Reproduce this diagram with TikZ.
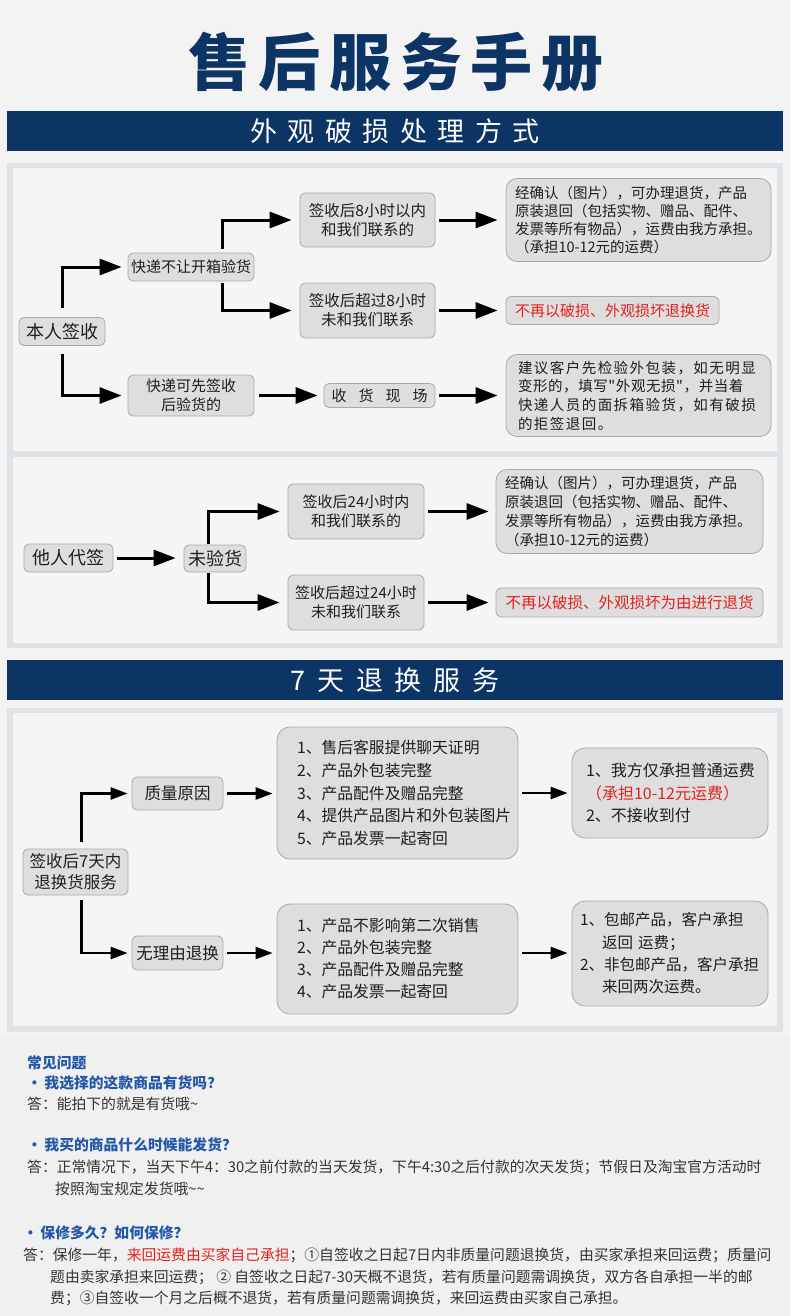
\documentclass[tikz,border=0pt]{standalone}
\usepackage{fontspec}
\setmainfont{Noto Sans CJK SC}
\usepackage{tikz}
\usetikzlibrary{arrows.meta}
\definecolor{Navy}{HTML}{0C3465}
\definecolor{Page}{HTML}{F3F3F3}
\definecolor{FaqBg}{HTML}{F0F0F0}
\definecolor{Frame}{HTML}{DEE3E7}
\definecolor{Panel}{HTML}{F5F5F5}
\definecolor{BoxFill}{HTML}{DEDEDE}
\definecolor{BoxLine}{HTML}{A9A9A9}
\definecolor{Ink}{HTML}{1E1E1E}
\definecolor{Warn}{HTML}{E3211F}
\definecolor{FaqBlue}{HTML}{2357A8}
\definecolor{FaqText}{HTML}{333333}
\newcommand\setfs[2]{\fontsize{#1}{#2}\selectfont}
\tikzset{card/.style={rounded corners=5pt,draw=BoxLine,fill=BoxFill,line width=.8pt,align=center,text=Ink,inner sep=0pt},bigcard/.style={card,rounded corners=11pt,align=left,inner xsep=9pt},banner/.style={fill=Navy,text=white,minimum width=776pt,minimum height=40pt,inner sep=0pt},flow/.style={-{Triangle[length=22pt,width=16pt]},line width=3pt,draw=black},thinflow/.style={-{Triangle[length=17pt,width=12pt]},line width=2.4pt,draw=black},faqhead/.style={anchor=west,inner sep=0pt,text=FaqBlue,font=\setfs{14.8}{18}\bfseries},faqtext/.style={anchor=west,inner sep=0pt,text=FaqText,font=\setfs{14.8}{18}}}

\begin{document}
\begin{tikzpicture}[x=1pt,y=-1pt]
      % background, frames
      \fill[Page](0,0)rectangle(790,1316);
      \path[use as bounding box](0,0)rectangle(790,1316);
      \fill[FaqBg](0,1037)rectangle(790,1316);
      \fill[Frame](7,163)rectangle(783,648);\fill[Panel](13,168)rectangle(777,451);\fill[Panel](13,457)rectangle(777,643);
      \fill[Frame](7,708)rectangle(783,1032);\fill[Panel](13,713)rectangle(777,1026);
      \node[text=Navy,inner sep=0pt,font={\setfs{62}{62}\bfseries\addfontfeature{LetterSpace=14}}](title)at(396,62){售后服务手册\hspace{-8.7pt}};
      \node[banner,font={\setfs{27}{27}\addfontfeature{LetterSpace=39}}](damagebar)at(395,131){外观破损处理方式\hspace{-10.5pt}};
      \node[banner,font={\setfs{27}{27}\addfontfeature{LetterSpace=44}}](returnbar)at(395,680){7天退换服务\hspace{-11.9pt}};
      % signed by oneself
      \node[card,minimum width=86pt,minimum height=28pt,font=\setfs{18}{22}](self)at(62,331.5){本人签收};
      \node[card,minimum width=126pt,minimum height=28pt,font=\setfs{15}{19}](noopen)at(191,267){快递不让开箱验货};
      \node[card,minimum width=126pt,minimum height=41pt,font=\setfs{15}{19}](signfirst)at(191,395.5){快递可先签收\\后验货的};
      \node[card,minimum width=135pt,minimum height=54pt,font=\setfs{15.5}{19}](within8)at(367.5,220){签收后8小时以内\\和我们联系的};
      \node[card,minimum width=135pt,minimum height=55pt,font=\setfs{15.5}{19}](over8)at(367.5,310.5){签收后超过8小时\\未和我们联系};
      \node[card,minimum width=111pt,minimum height=24pt,font=\setfs{15}{19}](onsite)at(379.5,395.5){收\hspace{12pt}货\hspace{12pt}现\hspace{12pt}场};
      \node[bigcard,text width=247pt,minimum height=83pt,font=\setfs{14.5}{18.2}](refund1)at(638.5,220){经确认（图片），可办理退货，产品\\原装退回（包括实物、赠品、配件、\\发票等所有物品），运费由我方承担。\\（承担10-12元的运费）};
      \node[card,minimum width=213pt,minimum height=28pt,text=Warn,font=\setfs{15}{19}](noreturn1)at(612.5,310.5){不再以破损、外观损坏退换货};
      \node[bigcard,inner xsep=12pt,text width=241pt,minimum height=82pt,font={\setfs{14.5}{18.7}\addfontfeature{LetterSpace=10}}](advice)at(638.5,395.5){建议客户先检验外包装，如无明显\\{\addfontfeature{LetterSpace=4,Ligatures=TeXOff}变形的，填写"外观无损"，并当着}\\快递人员的面拆箱验货，如有破损\\的拒签退回。};
      \draw[flow,shorten <=9.5pt,shorten >=6pt](self.north)|-(noopen.west);\draw[flow,shorten <=8.5pt,shorten >=6pt](self.south)|-(signfirst.west);
      \draw[flow,shorten <=4pt,shorten >=8pt]([xshift=31pt]noopen.north)|-(within8.west);\draw[flow,shorten <=2pt,shorten >=8pt]([xshift=31pt]noopen.south)|-(over8.west);
      \draw[flow,shorten <=5pt,shorten >=6pt](signfirst)--(onsite);
      \draw[flow,shorten <=4pt,shorten >=8pt](within8)--(refund1);\draw[flow,shorten <=4pt,shorten >=8pt](over8.east)--(over8.east-|noreturn1.west);\draw[flow,shorten <=4pt,shorten >=8pt](onsite)--(advice);
      % signed by someone else
      \node[card,minimum width=89pt,minimum height=28pt,font=\setfs{18}{22}](other)at(68.5,558){他人代签};
      \node[card,minimum width=62pt,minimum height=27pt,font=\setfs{18}{22}](unchecked)at(215,558.5){未验货};
      \node[card,minimum width=136pt,minimum height=55pt,font=\setfs{15}{19}](within24)at(356,511.5){签收后24小时内\\和我们联系的};
      \node[card,minimum width=136pt,minimum height=55pt,font=\setfs{15}{19}](over24)at(356,602.5){签收后超过24小时\\未和我们联系};
      \node[bigcard,text width=249pt,minimum height=84pt,font=\setfs{14.5}{18.7}](refund2)at(629.5,511.5){经确认（图片），可办理退货，产品\\原装退回（包括实物、赠品、配件、\\发票等所有物品），运费由我方承担。\\（承担10-12元的运费）};
      \node[card,minimum width=267pt,minimum height=29pt,text=Warn,font=\setfs{15.5}{19}](noreturn2)at(629.5,602.5){不再以破损、外观损坏为由进行退货};
      \draw[flow,shorten <=4pt,shorten >=8pt](other.east)--(other.east-|unchecked.west);
      \draw[flow,shorten <=1pt,shorten >=8pt]([xshift=-7pt]unchecked.north)|-(within24.west);\draw[flow,shorten <=1pt,shorten >=8pt]([xshift=-7pt]unchecked.south)|-(over24.west);
      \draw[flow,shorten <=4pt,shorten >=7pt](within24)--(refund2);\draw[flow,shorten <=4pt,shorten >=7pt](over24)--(noreturn2);
      % 7 day returns
      \node[card,minimum width=105pt,minimum height=46pt,font=\setfs{16.5}{21}](start7)at(75.5,872){签收后7天内\\退换货服务};
      \node[card,minimum width=91pt,minimum height=33pt,font=\setfs{16.5}{20}](quality)at(177.5,793.5){质量原因};
      \node[card,minimum width=91pt,minimum height=34pt,font=\setfs{16.5}{20}](noreason)at(177.5,953){无理由退换};
      \node[bigcard,rounded corners=13pt,inner xsep=20pt,text width=201pt,minimum height=132pt,font=\setfs{15.8}{22.7}](qlist)at(397.5,793){1、售后客服提供聊天证明\\2、产品外包装完整\\3、产品配件及赠品完整\\4、提供产品图片和外包装图片\\5、产品发票一起寄回};
      \node[bigcard,rounded corners=13pt,inner xsep=20pt,text width=201pt,minimum height=110pt,font=\setfs{15.8}{22}](nlist)at(397.5,959){1、产品不影响第二次销售\\2、产品外包装完整\\3、产品配件及赠品完整\\4、产品发票一起寄回};
      \node[bigcard,rounded corners=13pt,inner xsep=14pt,text width=168pt,minimum height=90pt,font=\setfs{16}{22.5}](qresult)at(670,793){1、我方仅承担普通运费\\{\color{Warn}（承担10-12元运费）}\\2、不接收到付};
      \node[bigcard,rounded corners=13pt,inner xsep=8pt,text width=180pt,minimum height=105pt,font=\setfs{15.5}{22.3}](nresult)at(670,953.5){1、包邮产品，客户承担\\\hspace*{22pt}返回 运费；\\2、非包邮产品，客户承担\\\hspace*{22pt}来回两次运费。};
      \draw[thinflow,shorten <=7pt,shorten >=4pt]([xshift=6pt]start7.north)|-(quality.west);\draw[thinflow,shorten <=5pt,shorten >=4pt]([xshift=6pt]start7.south)|-(noreason.west);
      \draw[thinflow,shorten <=4pt,shorten >=4pt](quality.east)--(quality.east-|qlist.west);\draw[thinflow,shorten <=4pt,shorten >=4pt](qlist.east)--(qlist.east-|qresult.west);
      \draw[thinflow,shorten <=4pt,shorten >=4pt](noreason.east)--(noreason.east-|nlist.west);\draw[thinflow,shorten <=4pt,shorten >=4pt](nlist.east|-noreason.east)--(qresult.west|-noreason.east);
      % questions
      \node[faqhead](faqtitle)at(27,1063){常见问题};
      \node[faqhead](q1)at(27,1083){•\,我选择的这款商品有货吗？};
      \node[faqtext](a1)at(27,1104){答：能拍下的就是有货哦\textasciitilde};
      \node[faqhead](q2)at(27,1145){•\,我买的商品什么时候能发货？};
      \node[faqtext](a2)at(27,1167){答：正常情况下，当天下午4：30之前付款的当天发货，下午4:30之后付款的次天发货；节假日及淘宝官方活动时};
      \node[faqtext](a2b)at(55,1189){按照淘宝规定发货哦\textasciitilde\textasciitilde};
      \node[faqhead](q3)at(23,1233){•\,保修多久？如何保修？};
      \node[faqtext](a3)at(23,1255){答：保修一年，{\color{Warn}来回运费由买家自己承担}；①自签收之日起7日内非质量问题退换货，由买家承担来回运费；质量问};
      \node[faqtext](a3b)at(50,1277){题由卖家承担来回运费； ② 自签收之日起7-30天概不退货，若有质量问题需调换货，双方各自承担一半的邮};
      \node[faqtext](a3c)at(50,1298){费；③自签收一个月之后概不退货，若有质量问题需调换货，来回运费由买家自己承担。};
    \end{tikzpicture}
\end{document}
